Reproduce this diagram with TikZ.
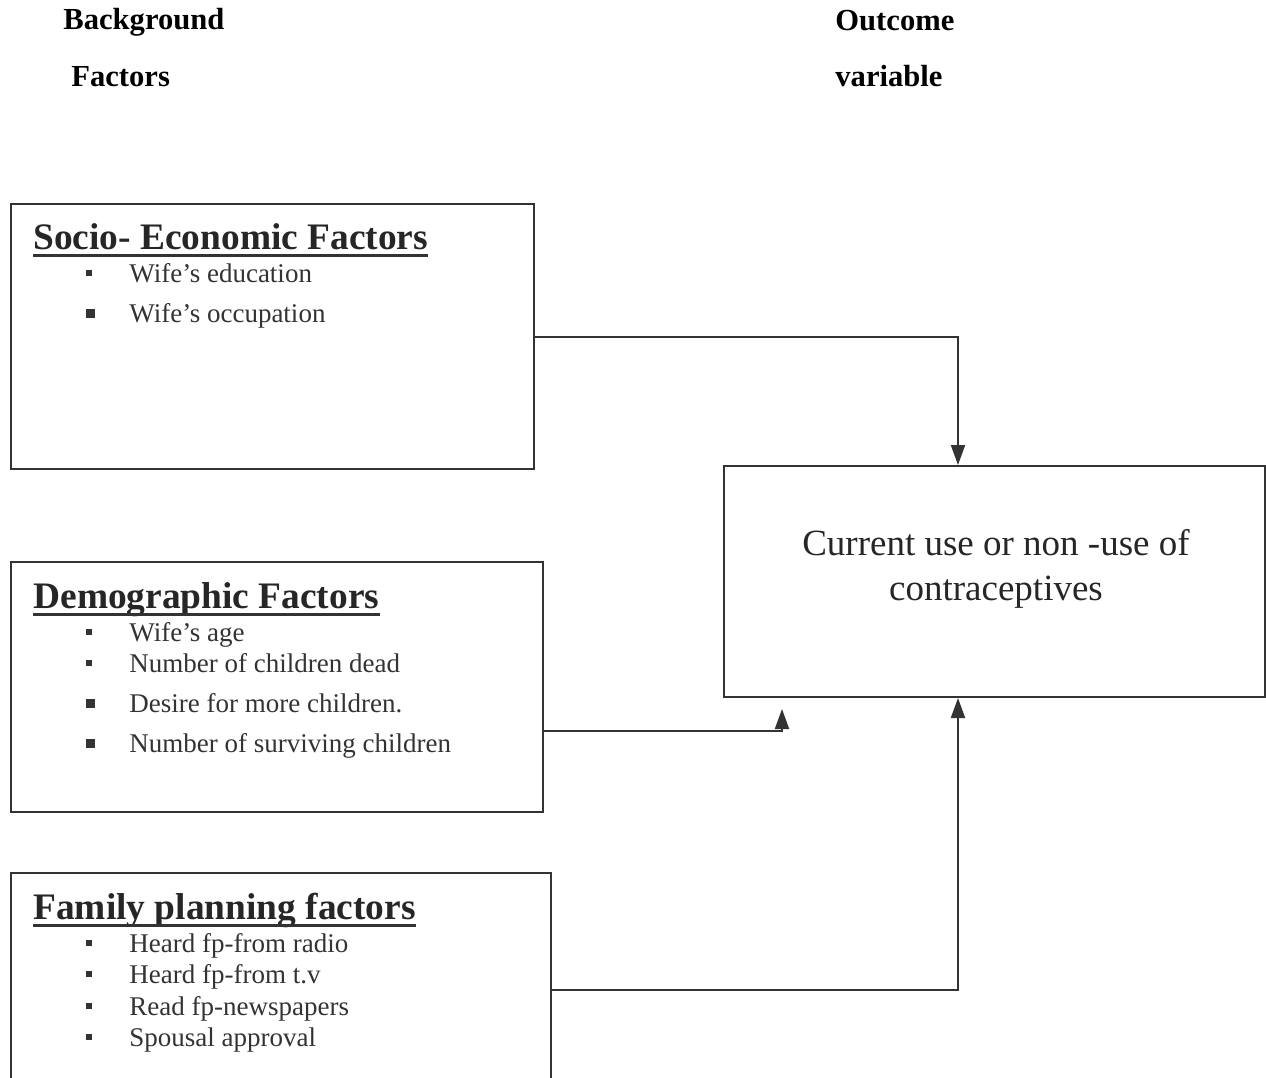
\documentclass[tikz,border=0pt]{standalone}
\usepackage{fontspec}
\setmainfont{Liberation Serif}
\usetikzlibrary{arrows.meta}

\tikzset{
  box/.style={draw=black!80, line width=1pt, inner sep=0pt},
  conn/.style={draw=black!80, line width=1pt, -{Triangle[length=10pt,width=7pt]}},
  uline/.style={draw=black!80, line width=1.5pt},
  toptitle/.style={anchor=base west, inner sep=0pt, font=\fontsize{15.3}{18}\selectfont\bfseries},
  head/.style={anchor=base west, inner sep=0pt, text=black!85, font=\fontsize{18.7}{22}\selectfont\bfseries},
  item/.style={anchor=base west, inner sep=0pt, text=black!80, font=\fontsize{13.5}{16}\selectfont},
  outtxt/.style={align=center, inner sep=0pt, text=black!85, font=\fontsize{18.5}{22.5}\selectfont},
}
% square bullet of side #1, centred on the x-height
\newcommand{\bul}[1]{\makebox[21.5pt][l]{\raisebox{\dimexpr4.5pt-#1/2\relax}{\rule{#1}{#1}}}}

\begin{document}
\begin{tikzpicture}[x=0.5pt, y=-0.5pt]
        \useasboundingbox (0,0) rectangle (1266,1078);

        % Column titles
        \node[toptitle] (bgtitle) at (63,29) {Background};
        \node[toptitle] (bgtitle2) at (71,86) {Factors};
        \node[toptitle] (outtitle) at (835,30) {Outcome};
        \node[toptitle] (outtitle2) at (835,86) {variable};

        % Boxes
        \node[box, minimum width=261.5pt, minimum height=132.5pt] (socio) at (272.5,336.5) {};
        \node[box, minimum width=266pt, minimum height=125pt] (demo) at (277,687) {};
        \node[box, minimum width=270pt, minimum height=117pt] (family) at (281,990) {};
        \node[box, minimum width=270.5pt, minimum height=115.5pt] (outcome) at (994.5,581.5) {};
        \node[outtxt] (outlabel) at (996,569) {Current use or non -use of\\contraceptives};

        % Socio-economic factors
        \node[head] (sochead) at (33,249) {Socio- Economic Factors};
        \draw[uline] ([yshift=-3pt]sochead.base west) -- ([yshift=-3pt]sochead.base east);
        \foreach \yy/\sz/\txt in {282/3pt/{Wife's education}, 322/4.5pt/{Wife's occupation}}{
            \node[item] (soc\yy) at (86,\yy) {\bul{\sz}\txt};
        }

        % Demographic factors
        \node[head] (demhead) at (33,608) {Demographic Factors};
        \draw[uline] ([yshift=-3pt]demhead.base west) -- ([yshift=-3pt]demhead.base east);
        \foreach \yy/\sz/\txt in {641/3pt/{Wife's age}, 672/3pt/{Number of children dead},
                                 712/4.5pt/{Desire for more children.}, 752/4.5pt/{Number of surviving children}}{
            \node[item] (dem\yy) at (86,\yy) {\bul{\sz}\txt};
        }

        % Family planning factors
        \node[head] (famhead) at (33,919) {Family planning factors};
        \draw[uline] ([yshift=-3pt]famhead.base west) -- ([yshift=-3pt]famhead.base east);
        \foreach \yy/\txt in {952/{Heard fp-from radio}, 983/{Heard fp-from t.v},
                             1015/{Read fp-newspapers}, 1046/{Spousal approval}}{
            \node[item] (fam\yy) at (86,\yy) {\bul{3pt}\txt};
        }

        % Connectors
        \coordinate (demotip) at ([xshift=29.5pt,yshift=-5.5pt]outcome.south west);
        \draw[conn] (socio.east) -| ([xshift=-18.25pt]outcome.north);
        \draw[conn] ([yshift=-22pt]demo.east) -| (demotip);
        \draw[conn] (family.east) -| ([xshift=-18.25pt]outcome.south);
    \end{tikzpicture}
\end{document}
